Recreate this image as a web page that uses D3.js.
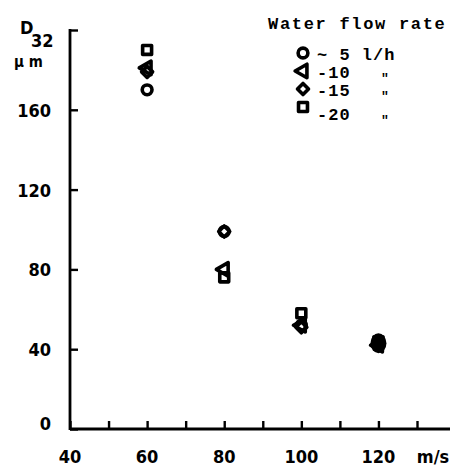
<!DOCTYPE html>
<html>
<head>
<meta charset="utf-8">
<script src="https://cdn.jsdelivr.net/npm/d3@7/dist/d3.min.js"></script>
<style>
  html, body { margin: 0; padding: 0; background: #fff; }
  svg { display: block; }
  .tick-label { font-family: "Liberation Sans Narrow", "DejaVu Sans Condensed", sans-serif; font-weight: bold; font-size: 18px; fill: #000; }
  .legend-text { font-family: "Liberation Mono", "DejaVu Sans Mono", monospace; font-weight: bold; font-size: 17px; fill: #000; }
</style>
</head>
<body>
<script>
// Air velocity (m/s) on the x axis
const velocities = [60, 80, 100, 120];
// Sauter mean diameter D32 (µm) for each water flow rate
const flow5  = [170, 99, 52, 43];
const flow10 = [181, 80, 52, 42];
const flow15 = [179, 99, 51, 43];
const flow20 = [190, 76, 58, 44];

const seriesNames = ["~ 5 l/h", "-10", "-15", "-20"];
const seriesUnits = ["", "\"", "\"", "\""];
const seriesShapes = ["circle", "triangle", "diamond", "square"];

const xTickValues = [40, 50, 60, 70, 80, 90, 100, 110, 120, 130];
const xTickLabels = [40, 60, 80, 100, 120];
const yTickValues = [0, 40, 80, 120, 160, 200];
const yTickLabels = [0, 40, 80, 120, 160];

const W = 450, H = 469;
const svg = d3.select("body").append("svg").attr("width", W).attr("height", H);

const x = d3.scaleLinear().domain([40, 130]).range([70, 417]);
const y = d3.scaleLinear().domain([0, 200]).range([429, 30]);

// Axes: inward ticks, heavy black lines
const xAxis = svg.append("g").attr("transform", `translate(0,${y(0)})`)
  .call(d3.axisTop(x).tickValues(xTickValues).tickSize(8).tickFormat(""));
xAxis.select(".domain").remove();
xAxis.selectAll("line").attr("stroke", "#000").attr("stroke-width", 2.4);
svg.append("line").attr("x1", x(40)).attr("x2", W).attr("y1", y(0)).attr("y2", y(0))
  .attr("stroke", "#000").attr("stroke-width", 2.8);

const yAxis = svg.append("g").attr("transform", `translate(${x(40)},0)`)
  .call(d3.axisRight(y).tickValues(yTickValues).tickSize(8).tickFormat(""));
yAxis.select(".domain").remove();
yAxis.selectAll("line").attr("stroke", "#000").attr("stroke-width", 2.4);
svg.append("line").attr("x1", x(40)).attr("x2", x(40)).attr("y1", y(200) - 1).attr("y2", y(0) + 1)
  .attr("stroke", "#000").attr("stroke-width", 2.8);

// Tick labels
svg.selectAll(".xl").data(xTickLabels).enter().append("text")
  .attr("class", "tick-label").attr("x", d => x(d)).attr("y", 463)
  .attr("text-anchor", "middle").text(d => d);
svg.append("text").attr("class", "tick-label").attr("x", 433).attr("y", 463)
  .attr("text-anchor", "middle").text("m/s");

svg.selectAll(".yl").data(yTickLabels).enter().append("text")
  .attr("class", "tick-label").attr("x", 51).attr("y", d => y(d) + 7 - (d === 0 ? 6 : 0))
  .attr("text-anchor", "end").text(d => d);

// Y axis title
svg.append("text").attr("class", "tick-label").attr("x", 20).attr("y", 34).text("D");
svg.append("text").attr("class", "tick-label").attr("x", 31).attr("y", 47).text("32");
svg.append("text").attr("class", "tick-label").attr("x", 14).attr("y", 67)
  .style("font-size", "15px").text("\u00b5 m");

// Marker shapes (diamond = square turned 45°)
const symbolPath = {
  circle: d3.symbol().type(d3.symbolCircle).size(75)(),
  square: d3.symbol().type(d3.symbolSquare).size(80)(),
  diamond: "M0,-5.5L5.5,0L0,5.5L-5.5,0Z",
  triangle: d3.symbol().type(d3.symbolTriangle).size(80)()
};
function drawMarker(g, shape, cx, cy) {
  const rot = shape === "triangle" ? -90 : 0;
  g.append("path").attr("d", symbolPath[shape])
    .attr("transform", `translate(${cx},${cy}) rotate(${rot})`)
    .attr("fill", "none").attr("stroke", "#000").attr("stroke-width", 3.6)
    .attr("stroke-linejoin", "round");
}

const seriesData = [flow5, flow10, flow15, flow20];
const marks = svg.append("g");
seriesData.forEach((vals, i) => {
  vals.forEach((v, j) => drawMarker(marks, seriesShapes[i], x(velocities[j]), y(v)));
});
// The 120 m/s cluster overlaps into a solid blob
marks.append("ellipse")
  .attr("cx", x(120)).attr("cy", y(d3.mean(seriesData, s => s[3])))
  .attr("rx", 8).attr("ry", 10).attr("fill", "#000");

// Legend
const legend = svg.append("g");
legend.append("text").attr("class", "legend-text").attr("x", 268).attr("y", 29)
  .style("letter-spacing", "1.7px").text("Water flow rate");
const legendY = [53, 71, 89, 107];
seriesNames.forEach((name, i) => {
  drawMarker(legend, seriesShapes[i], 303, legendY[i]);
  legend.append("text").attr("class", "legend-text").attr("x", 317).attr("y", legendY[i] + 7 + (i === 3 ? 6 : 0))
    .style("letter-spacing", "1px").text(name);
  if (seriesUnits[i]) {
    legend.append("text").attr("class", "legend-text").attr("x", 381).attr("y", legendY[i] + 11 + (i === 3 ? 6 : 0))
      .style("font-size", "13px").text(seriesUnits[i]);
  }
});
</script>
</body>
</html>
